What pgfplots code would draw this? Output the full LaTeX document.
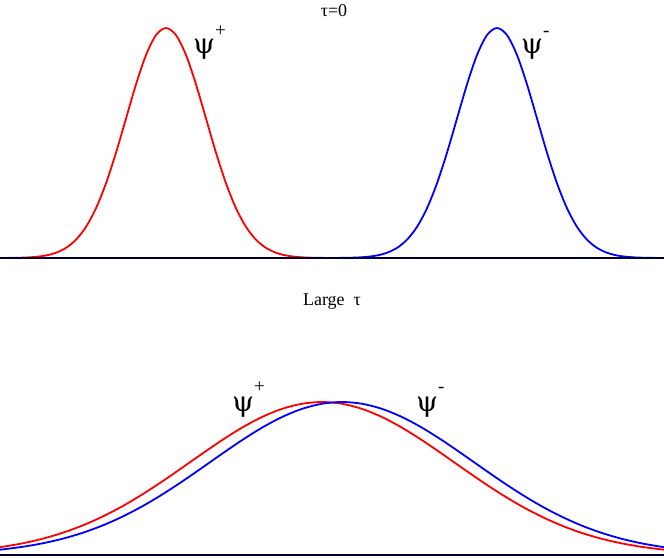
\documentclass[border=0pt]{standalone}
\usepackage{pgfplots}
\pgfplotsset{compat=1.18}
\usepackage{fontspec}
\setmainfont{Liberation Serif}
\newfontfamily\psifont{DejaVu Serif}

\pgfplotsset{
  panel/.style={
    scale only axis, width=664pt, xmin=0, xmax=664, ymin=0, ymax=1,
    axis y line=none, axis x line=bottom, axis on top,
    x axis line style={-, line width=1.1pt, black!80!blue},
    xtick=\empty, ytick=\empty, clip=false,
  },
}
\tikzset{psi/.style={font=\psifont\fontsize{#1}{#1}\selectfont, anchor=base west, inner sep=0pt}}
\newcommand\psup[2]{\raisebox{#1}{\rmfamily\fontsize{19}{19}\selectfont#2}}

\begin{document}
\begin{tikzpicture}
\useasboundingbox (0,0) rectangle (664pt,558pt);

% top panel, tau = 0
\begin{axis}[panel, height=230pt, at={(0pt,300pt)}, anchor=south west]
\addplot[red, line width=1.8pt, smooth] coordinates {
  (0,0) (6,0.0003) (16,0.0009) (26,0.0022) (36,0.0051) (46,0.0111) (56,0.0228)
  (66,0.0439) (76,0.0796) (86,0.1353) (96,0.2163) (106,0.3247) (116,0.4578)
  (126,0.6065) (136,0.7548) (146,0.8825) (156,0.9692) (166,1) (176,0.9692)
  (186,0.8825) (196,0.7548) (206,0.6065) (216,0.4578) (226,0.3247) (236,0.2163)
  (246,0.1353) (256,0.0796) (266,0.0439) (276,0.0228) (286,0.0111) (296,0.0051)
  (306,0.0022) (316,0.0009) (326,0.0003) (336,0) (664,0)
};
\addplot[blue, line width=1.8pt, smooth] coordinates {
  (0,0) (327,0) (337,0.0003) (347,0.0009) (357,0.0022) (367,0.0051) (377,0.0111)
  (387,0.0228) (397,0.0439) (407,0.0796) (417,0.1353) (427,0.2163) (437,0.3247)
  (447,0.4578) (457,0.6065) (467,0.7548) (477,0.8825) (487,0.9692) (497,1)
  (507,0.9692) (517,0.8825) (527,0.7548) (537,0.6065) (547,0.4578) (557,0.3247)
  (567,0.2163) (577,0.1353) (587,0.0796) (597,0.0439) (607,0.0228) (617,0.0111)
  (627,0.0051) (637,0.0022) (647,0.0009) (657,0.0003) (664,0)
};
\node[font=\fontsize{18}{18}\selectfont] at (axis cs:334,1.075) {τ=0};
\node[psi=28] at (axis cs:193,0.887) {ψ\psup{17pt}{+}};
\node[psi=28] at (axis cs:521,0.887) {ψ\psup{17pt}{-}};
\end{axis}

% bottom panel, large tau
\begin{axis}[panel, height=153pt, at={(0pt,3pt)}, anchor=south west]
\addplot[red, line width=1.8pt, smooth] coordinates {
  (0,0.0510) (2,0.0530) (22,0.0756) (42,0.1054) (62,0.1437) (82,0.1915)
  (102,0.2494) (122,0.3173) (142,0.3947) (162,0.4797) (182,0.5698) (202,0.6615)
  (222,0.7505) (242,0.8322) (262,0.9018) (282,0.9551) (302,0.9886) (322,1)
  (342,0.9886) (362,0.9551) (382,0.9018) (402,0.8322) (422,0.7505) (442,0.6615)
  (462,0.5698) (482,0.4797) (502,0.3947) (522,0.3173) (542,0.2494) (562,0.1915)
  (582,0.1437) (602,0.1054) (622,0.0756) (642,0.0530) (662,0.0362) (664,0.0349)
};
\addplot[blue, line width=1.8pt, smooth] coordinates {
  (0,0.0349) (2,0.0362) (22,0.0530) (42,0.0756) (62,0.1054) (82,0.1437)
  (102,0.1915) (122,0.2494) (142,0.3173) (162,0.3947) (182,0.4797) (202,0.5698)
  (222,0.6615) (242,0.7505) (262,0.8322) (282,0.9018) (302,0.9551) (322,0.9886)
  (342,1) (362,0.9886) (382,0.9551) (402,0.9018) (422,0.8322) (442,0.7505)
  (462,0.6615) (482,0.5698) (502,0.4797) (522,0.3947) (542,0.3173) (562,0.2494)
  (582,0.1915) (602,0.1437) (622,0.1054) (642,0.0756) (662,0.0530) (664,0.0510)
};
\node[font=\fontsize{18}{18}\selectfont] at (axis cs:332,1.654) {Large\ \ τ};
\node[psi=28] at (axis cs:232,0.935) {ψ\psup{19pt}{+}};
\node[psi=28] at (axis cs:416,0.935) {ψ\psup{19pt}{-}};
\end{axis}
\end{tikzpicture}
\end{document}
